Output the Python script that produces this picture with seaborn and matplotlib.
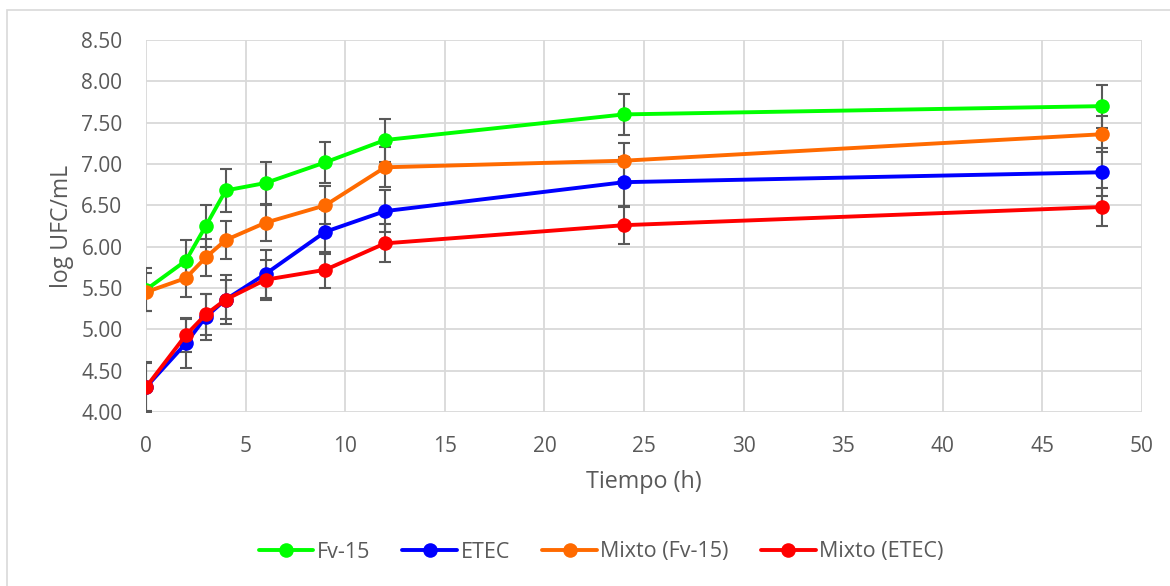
import numpy as np
import pandas as pd
import matplotlib
matplotlib.use("Agg")
import matplotlib.pyplot as plt
import seaborn as sns
from matplotlib.patches import Rectangle
from matplotlib.lines import Line2D

# ---- data ----
tiempo = [0, 2, 3, 4, 6, 9, 12, 24, 48]
series_names = ["Fv-15", "ETEC", "Mixto (Fv-15)", "Mixto (ETEC)"]
fv15 = [5.48, 5.83, 6.25, 6.68, 6.77, 7.02, 7.29, 7.60, 7.70]
etec = [4.30, 4.83, 5.15, 5.36, 5.67, 6.18, 6.43, 6.78, 6.90]
mixto_fv15 = [5.45, 5.62, 5.87, 6.08, 6.29, 6.50, 6.96, 7.04, 7.36]
mixto_etec = [4.30, 4.93, 5.18, 5.36, 5.60, 5.72, 6.04, 6.26, 6.48]
err_fv15 = [0.26, 0.25, 0.25, 0.26, 0.25, 0.25, 0.26, 0.25, 0.26]
err_etec = [0.29, 0.30, 0.28, 0.30, 0.29, 0.27, 0.25, 0.30, 0.29]
err_mixto_fv15 = [0.23, 0.23, 0.22, 0.23, 0.22, 0.23, 0.24, 0.22, 0.22]
err_mixto_etec = [0.30, 0.21, 0.25, 0.24, 0.24, 0.22, 0.23, 0.23, 0.23]
colors = ["#00ff00", "#0000ff", "#ff6a00", "#ff0000"]
yticks = [4.0, 4.5, 5.0, 5.5, 6.0, 6.5, 7.0, 7.5, 8.0, 8.5]
xticks = [0, 5, 10, 15, 20, 25, 30, 35, 40, 45, 50]

values = [fv15, etec, mixto_fv15, mixto_etec]
errors = [err_fv15, err_etec, err_mixto_fv15, err_mixto_etec]

df = pd.DataFrame({
    "Tiempo": np.tile(tiempo, len(series_names)),
    "Valor": np.concatenate(values),
    "Serie": np.repeat(series_names, len(tiempo)),
})

sns.set_theme(style="white")
plt.rcParams["font.family"] = ["Open Sans", "DejaVu Sans"]
text_color = "#595959"

fig = plt.figure(figsize=(11.70, 5.86), dpi=100)
ax = fig.add_axes([146/1170, 1-412/586, (1142-146)/1170, (412-40)/586])

# border of the chart area (right/bottom edges fall outside the image)
fig.patches.append(Rectangle((7/1170, -0.05), 1.2, 1 - 10/586 + 0.05,
                             transform=fig.transFigure, fill=False,
                             edgecolor="#d9d9d9", linewidth=1.2, zorder=0))

# error bars
for vals, errs in zip(values, errors):
    ax.errorbar(tiempo, vals, yerr=errs, fmt="none", ecolor="#595959",
                elinewidth=1.5, capsize=4.5, capthick=1.5, zorder=2.5)

sns.lineplot(data=df, x="Tiempo", y="Valor", hue="Serie", hue_order=series_names,
             palette=colors, marker="o", markersize=10.5, markeredgewidth=0,
             linewidth=2.8, ax=ax, legend=False, zorder=3, sort=False)

ax.set_xlim(0, 50)
ax.set_ylim(4.0, 8.5)
ax.set_xticks(xticks)
ax.set_yticks(yticks)
ax.set_yticklabels([f"{v:.2f}" for v in yticks])
ax.set_xticklabels([str(v) for v in xticks])
ax.grid(True, color="#d9d9d9", linewidth=1.3)
ax.set_axisbelow(True)
for s in ax.spines.values():
    s.set_visible(False)
ax.tick_params(axis="both", length=0, labelsize=15, colors=text_color)
ax.tick_params(axis="x", pad=17)
ax.tick_params(axis="y", pad=17)
ax.set_xlabel("Tiempo (h)", fontsize=16.8, color=text_color, labelpad=10)
ax.set_ylabel("log UFC/mL", fontsize=16.6, color=text_color, labelpad=5)

handles = [Line2D([0], [0], color=c, lw=2.8, marker="o", markersize=10.5,
                  markeredgewidth=0) for c in colors]
fig.legend(handles, series_names, loc="center", bbox_to_anchor=(601/1170, 1 - 552/586),
           ncol=4, frameon=False, fontsize=15.5, handlelength=2.55, handletextpad=0.15,
           columnspacing=1.5, labelcolor=text_color)

fig.savefig("out.png", dpi=100)
